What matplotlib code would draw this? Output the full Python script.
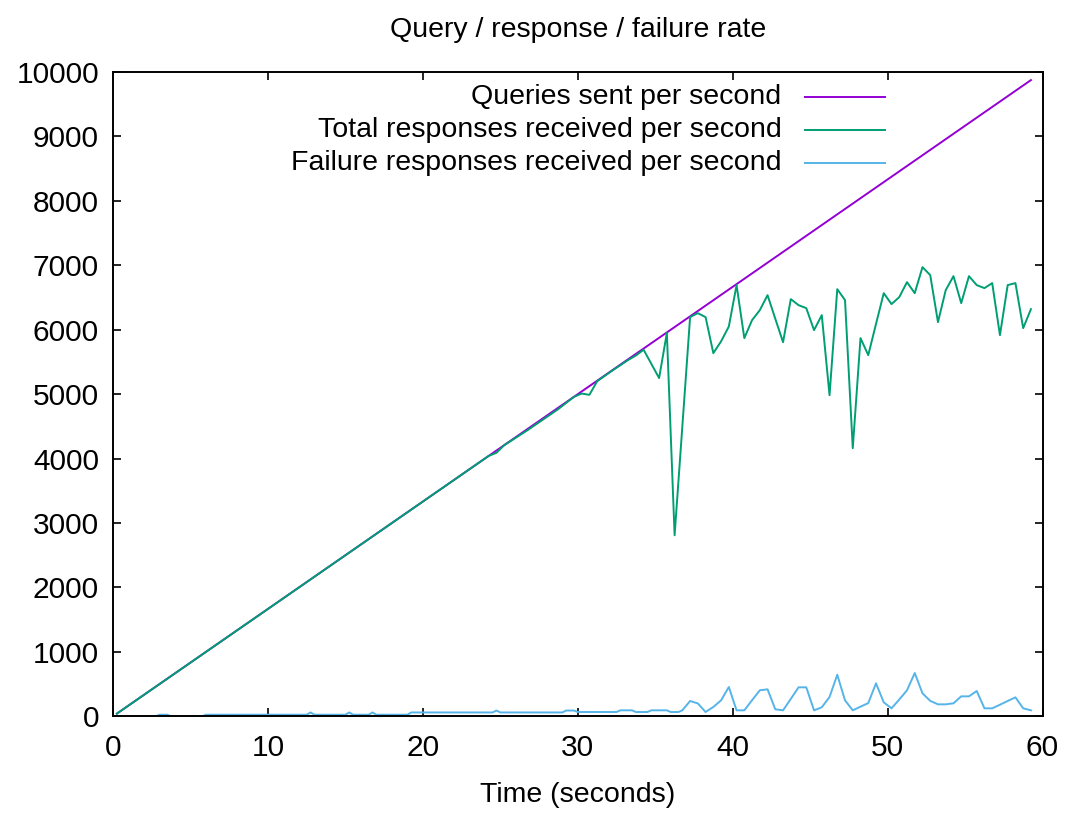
import matplotlib
matplotlib.use("Agg")
import matplotlib.pyplot as plt

plt.rcParams['font.family'] = ['Liberation Sans', 'DejaVu Sans']

# queries sent per second (straight ramp)
query_t = [0.25, 10.25, 20.25, 30.25, 40.25, 50.25, 59.25]
query_rate = [42, 1708, 3375, 5042, 6708, 8375, 9875]

# total responses received per second
resp_t = [0.25, 10.25, 20.25, 24.25, 24.75, 25.25, 26.75, 28.75, 29.75, 30.25,
          30.75, 31.25, 32.25, 33.25, 33.75,
          34.25, 34.75, 35.25, 35.75, 36.25, 36.75, 37.25, 37.75, 38.25, 38.75,
          39.25, 39.75, 40.25, 40.75, 41.25, 41.75, 42.25, 42.75, 43.25, 43.75,
          44.25, 44.75, 45.25, 45.75, 46.25, 46.75, 47.25, 47.75, 48.25, 48.75,
          49.25, 49.75, 50.25, 50.75, 51.25, 51.75, 52.25, 52.75, 53.25, 53.75,
          54.25, 54.75, 55.25, 55.75, 56.25, 56.75, 57.25, 57.75, 58.25, 58.75,
          59.25]
resp_rate = [42, 1708, 3375, 4042, 4090, 4208, 4440, 4770, 4958, 5010,
             4990, 5200, 5370, 5530, 5600,
             5690, 5470, 5250, 5950, 2810, 4500, 6196, 6258, 6196, 5637,
             5820, 6050, 6693, 5870, 6149, 6304, 6537, 6170, 5807, 6475,
             6382, 6335, 5994, 6227, 4984, 6630, 6460, 4162, 5870, 5606,
             6090, 6568, 6398, 6506, 6739, 6568, 6972, 6848, 6118, 6615,
             6832, 6413, 6832, 6693, 6646, 6724, 5916, 6693, 6724, 6025,
             6320]

# failure responses received per second
fail_t = [0.25, 2.75, 3.0, 3.5, 3.75, 5.75, 6.0, 12.5, 12.75, 13.0, 15.0, 15.25,
          15.5, 16.5, 16.75, 17.0, 19.0, 19.25, 24.5, 24.75, 25.0, 29.0, 29.25,
          29.75, 30.0, 32.5, 32.75, 33.5, 33.75, 34.5, 34.75, 35.75, 36.0, 36.5,
          36.75, 37.25, 37.75, 38.25, 38.75, 39.25, 39.75, 40.25, 40.75, 41.25,
          41.75, 42.25, 42.75, 43.25, 43.75, 44.25, 44.75, 45.25, 45.75, 46.25,
          46.75, 47.25, 47.75, 48.25, 48.75, 49.25, 49.75, 50.25, 50.75, 51.25,
          51.75, 52.25, 52.75, 53.25, 53.75, 54.25, 54.75, 55.25, 55.75, 56.25,
          56.75, 57.25, 57.75, 58.25, 58.75, 59.25]
fail_rate = [0, 0, 25, 25, 0, 0, 25, 25, 60, 25, 25, 60,
             25, 25, 60, 25, 25, 60, 60, 90, 60, 60, 90,
             90, 67, 67, 93, 93, 67, 67, 93, 93, 67, 67,
             93, 238, 200, 67, 145, 248, 455, 93, 93, 250,
             404, 419, 109, 93, 270, 450, 450, 93, 140, 300,
             645, 248, 93, 150, 205, 512, 217, 124, 260, 404,
             672, 357, 240, 186, 186, 202, 310, 310, 393, 124,
             124, 180, 238, 295, 124, 93]

labels = ["Queries sent per second",
          "Total responses received per second",
          "Failure responses received per second"]
colors = ["#9400d3", "#009e73", "#56b4e9"]

fig = plt.figure(figsize=(10.66, 8.14), dpi=100)
ax = fig.add_axes([0.106, 0.12, 0.872, 0.7915])

series = [(query_t, query_rate), (resp_t, resp_rate), (fail_t, fail_rate)]
for (t, v), c in zip(series, colors):
    ax.plot(t, v, color=c, lw=1.4)

ax.set_xlim(0, 60)
ax.set_ylim(0, 10000)
ax.set_xticks(range(0, 61, 10))
ax.set_yticks(range(0, 10001, 1000))
ax.tick_params(direction='in', length=6, width=1.2, labelsize=21.5,
               top=True, right=True)
ax.tick_params(axis='x', pad=13)
ax.tick_params(axis='y', pad=10)
for s in ax.spines.values():
    s.set_linewidth(1.4)

ax.set_title("Query / response / failure rate", fontsize=20.5, pad=25)
ax.set_xlabel("Time (seconds)", fontsize=20.5, labelpad=14)

# gnuplot style key: right-aligned text, sample line on the right
for i, (lab, c) in enumerate(zip(labels, colors)):
    y = 0.961 - i * 0.0512
    ax.text(0.719, y, lab, transform=ax.transAxes, ha='right', va='center',
            fontsize=20.5)
    ax.plot([0.744, 0.830], [y, y], transform=ax.transAxes, color=c, lw=1.4)

fig.savefig("out.png", dpi=100)
